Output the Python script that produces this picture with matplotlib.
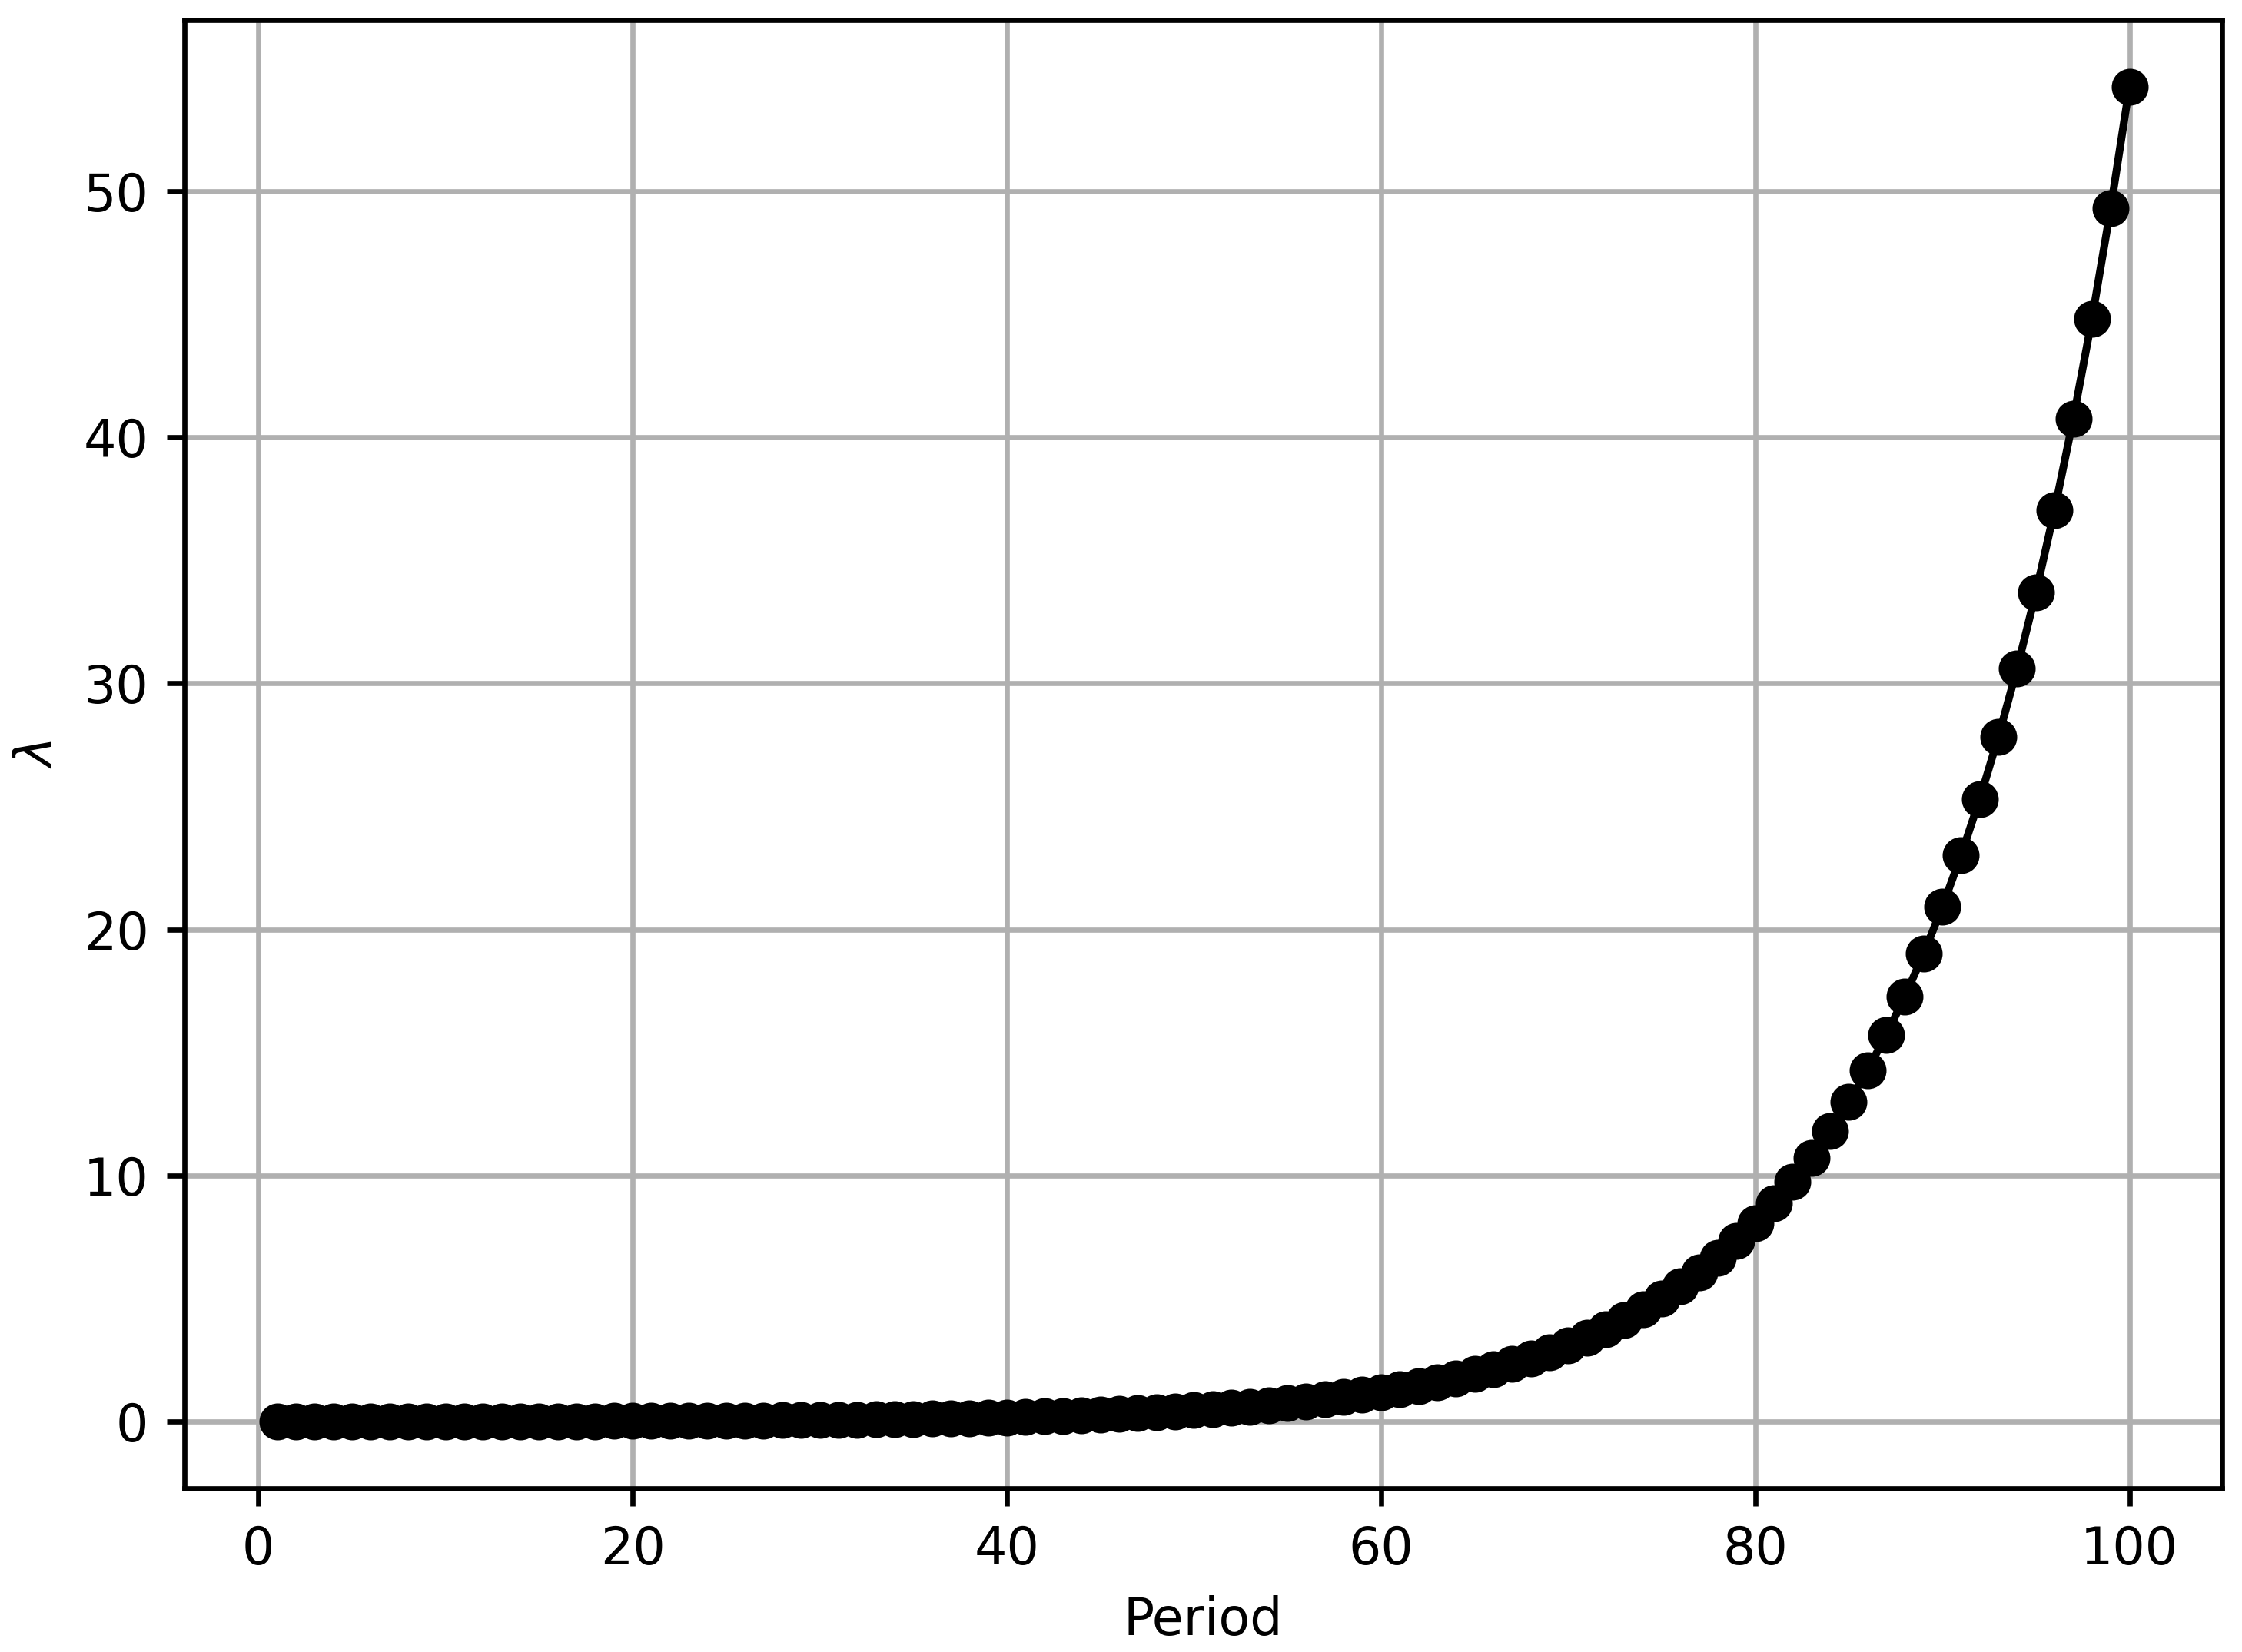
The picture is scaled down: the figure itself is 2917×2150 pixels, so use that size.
import matplotlib
matplotlib.use("Agg")
import matplotlib.pyplot as plt

# period index
periods = list(range(1, 101))

# lambda per period
lam = [
    0.0043, 0.0048, 0.0052, 0.0058, 0.0063, 0.0070, 0.0077, 0.0085, 0.0093, 0.0102,
    0.0112, 0.0124, 0.0136, 0.0150, 0.0165, 0.0181, 0.0199, 0.0219, 0.0241, 0.0265,
    0.0292, 0.0321, 0.0353, 0.0388, 0.0427, 0.0470, 0.0517, 0.0568, 0.0625, 0.0688,
    0.0756, 0.0832, 0.0915, 0.101, 0.111, 0.122, 0.134, 0.147, 0.162, 0.178,
    0.196, 0.216, 0.237, 0.261, 0.287, 0.316, 0.347, 0.382, 0.420, 0.462,
    0.508, 0.559, 0.615, 0.677, 0.744, 0.819, 0.901, 0.991, 1.090, 1.199,
    1.319, 1.450, 1.595, 1.755, 1.931, 2.124, 2.336, 2.570, 2.826, 3.109,
    3.420, 3.762, 4.138, 4.552, 5.007, 5.508, 6.059, 6.664, 7.331, 8.064,
    8.870, 9.757, 10.73, 11.81, 12.99, 14.29, 15.71, 17.29, 19.01, 20.92,
    23.01, 25.31, 27.84, 30.62, 33.69, 37.05, 40.76, 44.83, 49.32, 54.25,
]

# slightly heavier lines than the defaults
plt.rcParams["axes.linewidth"] = 1.0
plt.rcParams["grid.linewidth"] = 1.0
plt.rcParams["xtick.major.width"] = 1.0
plt.rcParams["ytick.major.width"] = 1.0

dpi = 480
fig = plt.figure(figsize=(2917 / dpi, 2150 / dpi), dpi=dpi)
fig.subplots_adjust(left=0.0823, right=0.9911, top=0.9879, bottom=0.0991)
ax = fig.add_subplot(111)

ax.plot(periods, lam, "o-", color="black", markersize=6.2)
ax.grid(True)
ax.set_xlabel("Period")
ax.set_ylabel(r"$\lambda$")

fig.savefig("out.png", dpi=dpi)
plt.close(fig)
